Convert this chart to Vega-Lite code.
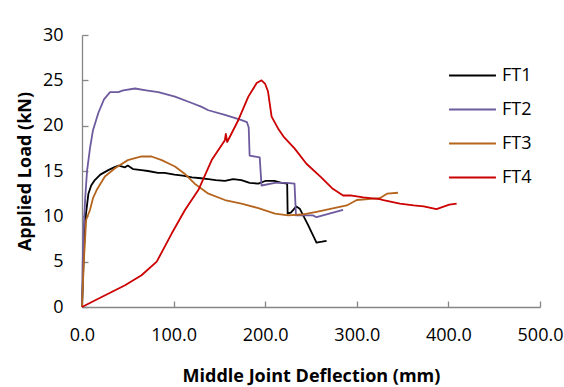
{
  "$schema": "https://vega.github.io/schema/vega-lite/v6.json",
  "width": 458,
  "height": 272,
  "autosize": "none",
  "padding": {"left": 82, "top": 35, "right": 24, "bottom": 80},
  "background": "white",
  "config": {
    "view": {"stroke": null},
    "font": "Open Sans",
    "axis": {
      "grid": false,
      "domainColor": "#868686",
      "domainWidth": 1.3,
      "tickColor": "#868686",
      "tickWidth": 1.3,
      "tickSize": -6,
      "labelFlush": false,
      "labelFont": "Open Sans",
      "labelFontSize": 18,
      "labelColor": "#000000",
      "titleFont": "Open Sans",
      "titleFontWeight": "bold",
      "titleFontSize": 18,
      "titleColor": "#000000"
    }
  },
  "data": {
    "values": [
      {"s": "FT1", "x": 0, "y": 0},
      {"s": "FT1", "x": 2, "y": 6},
      {"s": "FT1", "x": 4, "y": 10},
      {"s": "FT1", "x": 7, "y": 12.5},
      {"s": "FT1", "x": 10, "y": 13.4},
      {"s": "FT1", "x": 14, "y": 14.0},
      {"s": "FT1", "x": 20, "y": 14.6},
      {"s": "FT1", "x": 28.7, "y": 15.1},
      {"s": "FT1", "x": 35, "y": 15.4},
      {"s": "FT1", "x": 40, "y": 15.6},
      {"s": "FT1", "x": 47, "y": 15.4},
      {"s": "FT1", "x": 50, "y": 15.6},
      {"s": "FT1", "x": 56, "y": 15.2},
      {"s": "FT1", "x": 65, "y": 15.1},
      {"s": "FT1", "x": 72, "y": 15.0},
      {"s": "FT1", "x": 83, "y": 14.8},
      {"s": "FT1", "x": 90, "y": 14.8},
      {"s": "FT1", "x": 101, "y": 14.6},
      {"s": "FT1", "x": 110, "y": 14.5},
      {"s": "FT1", "x": 120, "y": 14.3},
      {"s": "FT1", "x": 130, "y": 14.2},
      {"s": "FT1", "x": 138, "y": 14.1},
      {"s": "FT1", "x": 146, "y": 14.0},
      {"s": "FT1", "x": 156, "y": 13.9},
      {"s": "FT1", "x": 165, "y": 14.1},
      {"s": "FT1", "x": 174, "y": 14.0},
      {"s": "FT1", "x": 183, "y": 13.7},
      {"s": "FT1", "x": 192.5, "y": 13.6},
      {"s": "FT1", "x": 200, "y": 13.9},
      {"s": "FT1", "x": 210, "y": 13.9},
      {"s": "FT1", "x": 218, "y": 13.7},
      {"s": "FT1", "x": 224, "y": 13.6},
      {"s": "FT1", "x": 224.5, "y": 10.3},
      {"s": "FT1", "x": 228, "y": 10.4},
      {"s": "FT1", "x": 234, "y": 11.1},
      {"s": "FT1", "x": 238, "y": 10.8},
      {"s": "FT1", "x": 247, "y": 9.0},
      {"s": "FT1", "x": 256, "y": 7.1},
      {"s": "FT1", "x": 262, "y": 7.2},
      {"s": "FT1", "x": 267, "y": 7.3},

      {"s": "FT2", "x": 0, "y": 0},
      {"s": "FT2", "x": 0.8, "y": 5},
      {"s": "FT2", "x": 2, "y": 9},
      {"s": "FT2", "x": 3.5, "y": 12},
      {"s": "FT2", "x": 5.5, "y": 15},
      {"s": "FT2", "x": 8.7, "y": 17.5},
      {"s": "FT2", "x": 12, "y": 19.5},
      {"s": "FT2", "x": 17.8, "y": 21.4},
      {"s": "FT2", "x": 24, "y": 22.9},
      {"s": "FT2", "x": 30.6, "y": 23.7},
      {"s": "FT2", "x": 39.6, "y": 23.7},
      {"s": "FT2", "x": 45, "y": 23.9},
      {"s": "FT2", "x": 57.9, "y": 24.1},
      {"s": "FT2", "x": 70, "y": 23.9},
      {"s": "FT2", "x": 83.3, "y": 23.7},
      {"s": "FT2", "x": 101.5, "y": 23.2},
      {"s": "FT2", "x": 119.8, "y": 22.5},
      {"s": "FT2", "x": 130, "y": 22.1},
      {"s": "FT2", "x": 137.9, "y": 21.7},
      {"s": "FT2", "x": 156, "y": 21.2},
      {"s": "FT2", "x": 174.3, "y": 20.6},
      {"s": "FT2", "x": 180, "y": 20.4},
      {"s": "FT2", "x": 182, "y": 19.8},
      {"s": "FT2", "x": 183, "y": 16.7},
      {"s": "FT2", "x": 194, "y": 16.5},
      {"s": "FT2", "x": 196, "y": 13.4},
      {"s": "FT2", "x": 210.7, "y": 13.7},
      {"s": "FT2", "x": 223.5, "y": 13.7},
      {"s": "FT2", "x": 232, "y": 13.6},
      {"s": "FT2", "x": 233.6, "y": 10.1},
      {"s": "FT2", "x": 252, "y": 10.1},
      {"s": "FT2", "x": 256, "y": 9.9},
      {"s": "FT2", "x": 270, "y": 10.3},
      {"s": "FT2", "x": 285, "y": 10.7},

      {"s": "FT3", "x": 0, "y": 0},
      {"s": "FT3", "x": 2, "y": 5},
      {"s": "FT3", "x": 4.5, "y": 9.6},
      {"s": "FT3", "x": 8.7, "y": 10.7},
      {"s": "FT3", "x": 12, "y": 12},
      {"s": "FT3", "x": 16, "y": 12.9},
      {"s": "FT3", "x": 25, "y": 14.4},
      {"s": "FT3", "x": 36, "y": 15.3},
      {"s": "FT3", "x": 50, "y": 16.2},
      {"s": "FT3", "x": 65, "y": 16.6},
      {"s": "FT3", "x": 76, "y": 16.6},
      {"s": "FT3", "x": 87, "y": 16.2},
      {"s": "FT3", "x": 101.5, "y": 15.5},
      {"s": "FT3", "x": 112, "y": 14.7},
      {"s": "FT3", "x": 123, "y": 13.6},
      {"s": "FT3", "x": 138, "y": 12.5},
      {"s": "FT3", "x": 156, "y": 11.8},
      {"s": "FT3", "x": 174, "y": 11.4},
      {"s": "FT3", "x": 192.5, "y": 10.9},
      {"s": "FT3", "x": 210.7, "y": 10.3},
      {"s": "FT3", "x": 225, "y": 10.1},
      {"s": "FT3", "x": 240, "y": 10.2},
      {"s": "FT3", "x": 256, "y": 10.5},
      {"s": "FT3", "x": 275, "y": 10.9},
      {"s": "FT3", "x": 289, "y": 11.2},
      {"s": "FT3", "x": 300, "y": 11.8},
      {"s": "FT3", "x": 325, "y": 12.0},
      {"s": "FT3", "x": 333, "y": 12.5},
      {"s": "FT3", "x": 345, "y": 12.6},

      {"s": "FT4", "x": 0, "y": 0},
      {"s": "FT4", "x": 21.5, "y": 1.1},
      {"s": "FT4", "x": 47, "y": 2.4},
      {"s": "FT4", "x": 65, "y": 3.5},
      {"s": "FT4", "x": 81.6, "y": 5.0},
      {"s": "FT4", "x": 97.9, "y": 8.1},
      {"s": "FT4", "x": 112.4, "y": 10.7},
      {"s": "FT4", "x": 127, "y": 12.9},
      {"s": "FT4", "x": 141.6, "y": 16.2},
      {"s": "FT4", "x": 156, "y": 18.4},
      {"s": "FT4", "x": 157, "y": 19.1},
      {"s": "FT4", "x": 158.5, "y": 18.2},
      {"s": "FT4", "x": 170.6, "y": 20.6},
      {"s": "FT4", "x": 181.6, "y": 23.2},
      {"s": "FT4", "x": 190.7, "y": 24.7},
      {"s": "FT4", "x": 196, "y": 25.0},
      {"s": "FT4", "x": 200, "y": 24.6},
      {"s": "FT4", "x": 203, "y": 23.8},
      {"s": "FT4", "x": 207, "y": 21.0},
      {"s": "FT4", "x": 214, "y": 19.7},
      {"s": "FT4", "x": 220, "y": 18.8},
      {"s": "FT4", "x": 232, "y": 17.5},
      {"s": "FT4", "x": 245, "y": 15.8},
      {"s": "FT4", "x": 260, "y": 14.4},
      {"s": "FT4", "x": 273, "y": 13.1},
      {"s": "FT4", "x": 285, "y": 12.3},
      {"s": "FT4", "x": 293, "y": 12.3},
      {"s": "FT4", "x": 307, "y": 12.1},
      {"s": "FT4", "x": 325, "y": 11.9},
      {"s": "FT4", "x": 329, "y": 11.8},
      {"s": "FT4", "x": 347, "y": 11.4},
      {"s": "FT4", "x": 362, "y": 11.2},
      {"s": "FT4", "x": 373, "y": 11.1},
      {"s": "FT4", "x": 387, "y": 10.8},
      {"s": "FT4", "x": 401, "y": 11.3},
      {"s": "FT4", "x": 409, "y": 11.4}
    ]
  },
  "mark": {"type": "line", "strokeJoin": "round"},
  "encoding": {
    "x": {
      "field": "x", "type": "quantitative",
      "scale": {"domain": [0, 500], "nice": false},
      "axis": {"values": [0, 100, 200, 300, 400, 500], "format": ".1f", "labelPadding": 25, "title": "Middle Joint Deflection (mm)", "titlePadding": 23}
    },
    "y": {
      "field": "y", "type": "quantitative",
      "scale": {"domain": [0, 30], "nice": false},
      "axis": {"values": [0, 5, 10, 15, 20, 25, 30], "labelPadding": 25, "title": "Applied Load (kN)", "titlePadding": 8}
    },
    "color": {
      "field": "s", "type": "nominal",
      "scale": {"domain": ["FT1", "FT2", "FT3", "FT4"], "range": ["#000000", "#6E5A9E", "#B5651D", "#CC0000"]},
      "legend": {
        "title": null,
        "orient": "none",
        "legendX": 366,
        "legendY": 16,
        "symbolType": "stroke",
        "symbolSize": 2200,
        "symbolStrokeWidth": 2.5,
        "labelFontSize": 18,
        "labelFont": "Open Sans",
        "labelColor": "#000000",
        "labelOffset": 5,
        "rowPadding": 0
      }
    },
    "strokeWidth": {
      "field": "s", "type": "nominal",
      "scale": {"domain": ["FT1", "FT2", "FT3", "FT4"], "range": [1.8, 1.8, 1.8, 2.8]},
      "legend": null
    },
    "order": {"value": null}
  }
}
